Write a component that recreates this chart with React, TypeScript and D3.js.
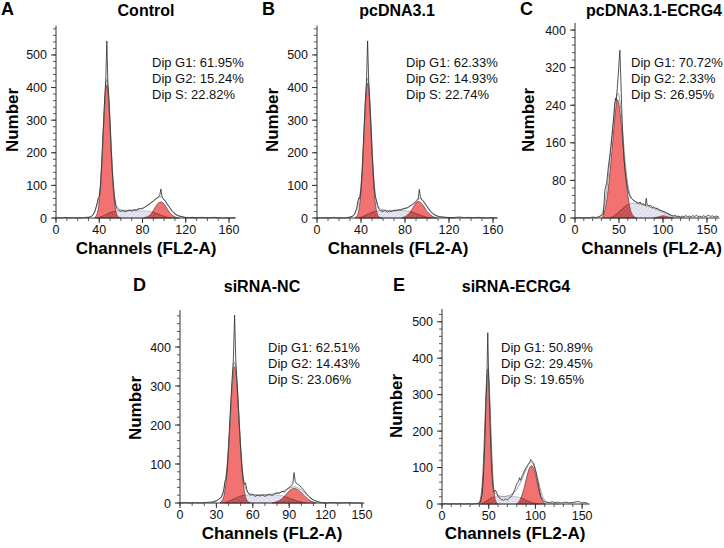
import * as d3 from "d3";

type Pt = [number, number];

// ---- panel A: Control
const aRaw: Pt[] = [[0,0],[3,1],[6,0],[9,2],[12,0],[15,1],[18,0],[21,1],[24,0],[27,2],[30,2],[32,4],[34,8],[36,20],[38,45],[39,62],[40,66],[41,95],[42,150],[43,220],[44,290],[45,365],[46,420],[47,543],[48,410],[49,360],[50,290],[51,215],[52,150],[53,100],[54,65],[55,42],[56,30],[57,26],[58,24],[60,20],[62,23],[64,19],[66,22],[68,24],[70,21],[72,25],[74,23],[76,27],[78,29],[80,28],[82,33],[84,38],[86,42],[88,48],[90,52],[92,58],[94,62],[96,70],[97,89],[98,66],[99,60],[101,52],[103,42],[105,32],[107,22],[109,15],[111,10],[113,7],[115,5],[117,4],[119,2],[122,1],[126,2],[130,1],[134,2],[138,1],[142,1],[146,2],[150,1],[154,0],[158,1],[162,0],[166,1]];
const aFit: Pt[] = [[28,0],[32,3],[35,12],[38,40],[40,62],[41,95],[42,150],[43,220],[44,295],[45,365],[46,415],[47,430],[48,415],[49,370],[50,300],[51,225],[52,158],[53,105],[54,70],[55,45],[57,30],[60,24],[65,23],[75,26],[82,32],[86,40],[90,52],[94,63],[97,67],[99,62],[101,52],[104,38],[107,24],[111,10],[115,4],[121,1],[130,0]];
const aG1: Pt[] = [[36,2],[37,5],[38,12],[39,26],[40,50],[41,87],[42,140],[43,207],[44,280],[45,348],[46,397],[47,414],[48,397],[49,348],[50,280],[51,207],[52,140],[53,87],[54,50],[55,26],[56,12],[57,5],[58,2],[60,0]];
const aG2: Pt[] = [[81,0],[85,4],[88,12],[91,28],[93,40],[95,48],[97,50],[99,47],[101,38],[103,27],[105,16],[108,6],[111,2],[114,0]];
const aS: Pt[] = [[38,0],[42,4],[46,10],[50,17],[54,21],[58,22],[70,22],[80,22],[86,21],[90,18],[94,13],[98,7],[102,3],[106,0]];
const aStats = ["Dip G1: 61.95%", "Dip G2: 15.24%", "Dip S: 22.82%"];

// ---- panel B: pcDNA3.1
const bRaw: Pt[] = [[0,0],[3,1],[6,0],[9,1],[12,0],[15,2],[18,0],[21,1],[24,0],[27,1],[30,3],[32,5],[34,10],[36,28],[37,50],[38,62],[39,60],[40,90],[41,140],[42,215],[43,290],[44,360],[45,420],[46,543],[47,420],[48,355],[49,285],[50,210],[51,145],[52,95],[53,65],[54,55],[55,38],[56,28],[58,22],[60,20],[62,23],[64,18],[66,21],[68,20],[70,23],[72,22],[74,25],[76,24],[78,28],[80,30],[82,31],[84,36],[86,40],[88,44],[90,50],[92,58],[93,88],[94,65],[95,58],[97,50],[99,40],[101,30],[103,20],[105,13],[107,9],[109,6],[111,4],[114,3],[118,2],[122,1],[126,2],[130,3],[134,1],[138,2],[142,1],[146,2],[150,1],[154,0],[158,1],[164,0]];
const bFit: Pt[] = [[28,0],[32,4],[34,10],[36,25],[38,45],[40,95],[41,145],[42,215],[43,290],[44,365],[45,415],[46,435],[47,418],[48,365],[49,295],[50,220],[51,155],[52,105],[53,70],[54,48],[56,32],[58,26],[65,22],[75,25],[82,30],[86,38],[89,50],[91,57],[93,61],[95,58],[97,50],[100,36],[103,22],[107,10],[111,4],[117,1],[126,0]];
const bG1: Pt[] = [[35,2],[36,4],[37,10],[38,22],[39,44],[40,80],[41,133],[42,201],[43,277],[44,349],[45,402],[46,420],[47,402],[48,349],[49,277],[50,201],[51,133],[52,80],[53,44],[54,22],[55,10],[56,4],[57,2],[59,0]];
const bG2: Pt[] = [[77,0],[81,5],[84,14],[87,30],[89,42],[91,50],[93,51],[95,46],[97,36],[99,24],[102,12],[105,4],[109,0]];
const bS: Pt[] = [[38,0],[42,5],[46,11],[50,18],[54,22],[60,23],[70,23],[80,23],[84,21],[88,17],[92,11],[96,6],[100,2],[104,0]];
const bStats = ["Dip G1: 62.33%", "Dip G2: 14.93%", "Dip S: 22.74%"];

// ---- panel C: pcDNA3.1-ECRG4
const cRaw: Pt[] = [[0,0],[4,1],[8,0],[12,1],[16,0],[20,2],[24,1],[27,3],[30,5],[32,8],[33,30],[34,60],[36,75],[38,110],[40,140],[42,175],[44,215],[45,240],[46,255],[47,250],[48,275],[49,300],[50,330],[51,357],[52,300],[53,240],[54,185],[55,150],[56,120],[58,85],[60,60],[62,48],[64,42],[66,38],[68,36],[70,33],[72,31],[74,34],[76,29],[78,30],[80,27],[81,42],[82,28],[84,26],[86,27],[88,22],[90,24],[92,20],[94,21],[96,17],[98,16],[100,14],[102,13],[104,11],[106,9],[108,7],[110,5],[112,4],[114,6],[116,3],[118,4],[120,2],[122,4],[124,3],[126,5],[128,3],[130,4],[132,2],[134,5],[136,3],[138,6],[140,3],[142,4],[144,2],[146,5],[148,3],[150,4],[152,6],[154,3],[156,5],[158,2],[160,4],[163,3]];
const cFit: Pt[] = [[26,0],[30,4],[33,20],[36,55],[39,110],[42,170],[44,215],[46,250],[48,268],[50,265],[52,235],[54,190],[56,140],[58,100],[60,70],[62,52],[64,42],[67,36],[72,32],[80,27],[90,21],[100,14],[106,9],[110,5],[116,2],[124,0]];
const cG1: Pt[] = [[31,0],[34,15],[37,45],[40,100],[43,165],[45,210],[47,245],[48,255],[50,245],[52,215],[54,170],[56,120],[58,80],[60,48],[62,25],[64,10],[67,2],[70,0]];
const cG2: Pt[] = [[90,0],[94,2],[98,4],[101,5],[104,3],[108,1],[111,0]];
const cS: Pt[] = [[40,0],[45,5],[50,13],[55,22],[60,29],[64,32],[70,31],[80,26],[90,20],[100,12],[106,6],[110,2],[114,0]];
const cStats = ["Dip G1: 70.72%", "Dip G2: 2.33%", "Dip S: 26.95%"];

// ---- panel D: siRNA-NC
const dRaw: Pt[] = [[0,0],[4,1],[8,0],[12,1],[16,0],[20,1],[24,2],[27,3],[30,6],[32,10],[34,14],[36,30],[37,55],[38,62],[39,95],[40,145],[41,205],[42,265],[43,320],[44,370],[45,482],[46,365],[47,310],[48,255],[49,195],[50,140],[51,95],[52,65],[53,48],[54,52],[55,35],[56,26],[58,20],[60,22],[62,17],[64,20],[66,18],[68,21],[70,17],[72,20],[74,22],[76,19],[78,24],[80,26],[82,25],[84,30],[86,28],[88,35],[90,40],[92,45],[93,50],[94,78],[95,55],[96,50],[98,46],[100,40],[102,33],[104,25],[106,18],[108,12],[110,8],[112,5],[114,3],[116,1],[120,0],[126,1],[132,0],[138,1],[144,0],[150,0]];
const dFit: Pt[] = [[26,0],[30,4],[33,12],[35,20],[37,45],[39,100],[40,145],[41,200],[42,255],[43,312],[44,352],[45,366],[46,352],[47,315],[48,260],[49,200],[50,145],[51,100],[52,68],[53,46],[55,30],[58,22],[65,20],[75,22],[82,26],[86,31],[90,38],[93,42],[96,41],[99,36],[102,28],[106,16],[110,7],[114,2],[120,0]];
const dG1: Pt[] = [[33,1],[34,3],[35,7],[36,15],[37,30],[38,53],[39,88],[40,135],[41,190],[42,247],[43,302],[44,340],[45,354],[46,340],[47,302],[48,247],[49,190],[50,135],[51,88],[52,53],[53,30],[54,15],[55,7],[56,3],[58,0]];
const dG2: Pt[] = [[76,0],[80,3],[84,10],[87,20],[90,32],[93,38],[96,37],[99,30],[102,20],[105,11],[108,4],[112,0]];
const dS: Pt[] = [[36,0],[40,4],[44,10],[48,16],[52,20],[56,21],[70,21],[80,21],[84,19],[88,15],[92,10],[96,6],[100,2],[104,0]];
const dStats = ["Dip G1: 62.51%", "Dip G2: 14.43%", "Dip S: 23.06%"];

// ---- panel E: siRNA-ECRG4
const eRaw: Pt[] = [[0,0],[4,1],[8,0],[12,1],[16,0],[20,1],[24,0],[28,1],[32,0],[36,1],[39,2],[41,5],[43,25],[44,60],[45,110],[46,180],[47,270],[48,340],[49,470],[50,345],[51,260],[52,170],[53,105],[54,60],[55,40],[56,32],[57,38],[58,35],[59,28],[60,22],[62,15],[64,12],[66,10],[68,14],[70,11],[72,16],[74,20],[76,28],[78,40],[80,55],[82,62],[83,72],[84,65],[86,78],[88,90],[90,100],[92,108],[94,115],[95,122],[96,118],[98,112],[100,95],[102,70],[104,42],[106,20],[108,10],[110,6],[112,5],[115,4],[118,6],[121,4],[124,5],[127,3],[130,4],[133,5],[136,3],[139,4],[142,5],[145,7],[147,6],[150,3],[153,4],[156,2]];
const eFit: Pt[] = [[38,0],[40,2],[42,4],[44,35],[45,100],[46,170],[47,255],[48,330],[49,385],[50,340],[51,260],[52,175],[53,105],[54,62],[55,40],[57,28],[60,22],[65,20],[72,22],[78,32],[82,48],[86,70],[90,95],[93,110],[95,115],[97,113],[100,95],[103,65],[106,32],[109,12],[112,4],[118,1],[125,0]];
const eG1: Pt[] = [[40,4],[41,11],[42,25],[43,51],[44,94],[45,155],[46,229],[47,303],[48,358],[49,377],[50,358],[51,303],[52,229],[53,155],[54,94],[55,51],[56,25],[57,11],[58,4],[60,0]];
const eG2: Pt[] = [[80,0],[83,8],[86,25],[89,55],[92,88],[94,102],[96,107],[98,100],[100,82],[102,58],[104,34],[106,15],[108,5],[111,0]];
const eS: Pt[] = [[42,0],[46,6],[50,13],[54,19],[58,20],[70,20],[80,20],[84,18],[88,13],[92,8],[96,4],[100,1],[103,0]];
const eStats = ["Dip G1: 50.89%", "Dip G2: 29.45%", "Dip S: 19.65%"];

const titles = ["Control", "pcDNA3.1", "pcDNA3.1-ECRG4", "siRNA-NC", "siRNA-ECRG4"];
const letters = ["A", "B", "C", "D", "E"];
const xTicksAB = [0, 40, 80, 120, 160];
const xTicksCE = [0, 50, 100, 150];
const xTicksD = [0, 30, 60, 90, 120, 150];
const yTicksAB = [0, 100, 200, 300, 400, 500];
const yTicksC = [0, 80, 160, 240, 320, 400];
const yTicksD = [0, 100, 200, 300, 400];
const yTicksE = [0, 100, 200, 300, 400, 500];

const FONT = "Liberation Sans, Arial, Helvetica, sans-serif";
const RED = "#f27272";

const panels = [
  { id: "a", raw: aRaw, fit: aFit, g1: aG1, g2: aG2, s: aS, stats: aStats, xTicks: xTicksAB, xMinor: 10, yTicks: yTicksAB, yMinor: 20,
    xMax: 166, yMax: 590, left: 56, right: 235.5, top: 25.6, bottom: 218,
    letterX: 1, letterY: 15, titleX: 146, titleY: 16, titleAnchor: "middle", numX: 12, numY: 120, statX: 152, statY: 67, labX: 146, labY: 254, labAnchor: "middle" },
  { id: "b", raw: bRaw, fit: bFit, g1: bG1, g2: bG2, s: bS, stats: bStats, xTicks: xTicksAB, xMinor: 10, yTicks: yTicksAB, yMinor: 20,
    xMax: 164, yMax: 590, left: 317, right: 497.4, top: 25.6, bottom: 218,
    letterX: 262, letterY: 15, titleX: 397, titleY: 16, titleAnchor: "middle", numX: 272, numY: 120, statX: 406, statY: 67, labX: 398, labY: 254, labAnchor: "middle" },
  { id: "c", raw: cRaw, fit: cFit, g1: cG1, g2: cG2, s: cS, stats: cStats, xTicks: xTicksCE, xMinor: 10, yTicks: yTicksC, yMinor: 16,
    xMax: 164, yMax: 415, left: 575, right: 719.3, top: 23, bottom: 218,
    letterX: 520, letterY: 15, titleX: 722, titleY: 16, titleAnchor: "end", numX: 528, numY: 120, statX: 631, statY: 67, labX: 722, labY: 254, labAnchor: "end" },
  { id: "d", raw: dRaw, fit: dFit, g1: dG1, g2: dG2, s: dS, stats: dStats, xTicks: xTicksD, xMinor: 10, yTicks: yTicksD, yMinor: 20,
    xMax: 152, yMax: 495, left: 180, right: 364.4, top: 310, bottom: 503,
    letterX: 133, letterY: 291, titleX: 262, titleY: 292, titleAnchor: "middle", numX: 135, numY: 408, statX: 268, statY: 352, labX: 272, labY: 539, labAnchor: "middle" },
  { id: "e", raw: eRaw, fit: eFit, g1: eG1, g2: eG2, s: eS, stats: eStats, xTicks: xTicksCE, xMinor: 10, yTicks: yTicksE, yMinor: 20,
    xMax: 158, yMax: 535, left: 442, right: 589.6, top: 309, bottom: 504,
    letterX: 393, letterY: 291, titleX: 516, titleY: 292, titleAnchor: "middle", numX: 396, numY: 406, statX: 501, statY: 352, labX: 515, labY: 539, labAnchor: "middle" },
];

function Panel({ p, i }: { p: (typeof panels)[number]; i: number }) {
  const x = d3.scaleLinear().domain([0, p.xMax]).range([p.left, p.right]);
  const y = d3.scaleLinear().domain([0, p.yMax]).range([p.bottom, p.top]);
  const area = d3.area<Pt>().x(d => x(d[0])).y0(y(0)).y1(d => y(d[1])).curve(d3.curveBasis);
  const smooth = d3.line<Pt>().x(d => x(d[0])).y(d => y(d[1])).curve(d3.curveBasis);
  const jag = d3.line<Pt>().x(d => x(d[0])).y(d => y(d[1]));
  const xMinor = d3.range(0, p.xMax + 0.01, p.xMinor);
  const yMinor = d3.range(0, p.yMax + 0.01, p.yMinor);
  const clip = `redclip-${p.id}`;
  return (
    <g>
      <clipPath id={clip}>
        <path d={area(p.g1) || ""} />
        <path d={area(p.g2) || ""} />
      </clipPath>
      {/* S phase */}
      <path d={area(p.s) || ""} fill="#e6e6f4" />
      <path d={area(p.s) || ""} fill="url(#hatchS)" stroke="#9a9ab2" strokeWidth={0.6} />
      {/* G1 / G2 */}
      <path d={area(p.g1) || ""} fill={RED} stroke="#5a3030" strokeWidth={0.7} />
      <path d={area(p.g2) || ""} fill={RED} stroke="#5a3030" strokeWidth={0.7} />
      <g clipPath={`url(#${clip})`}>
        <path d={area(p.s) || ""} fill="#cc5a5a" />
        <path d={area(p.s) || ""} fill="url(#hatchD)" stroke="#6a2a2a" strokeWidth={0.6} />
      </g>
      <path d={smooth(p.fit) || ""} fill="none" stroke="#a0a0a0" strokeWidth={1} />
      <path d={jag(p.raw) || ""} fill="none" stroke="#2a2a2a" strokeWidth={0.8} />

      {/* axes */}
      <line x1={p.left} x2={p.left} y1={p.bottom} y2={p.top} stroke="#333" strokeWidth={1} />
      <line x1={p.left} x2={p.right} y1={p.bottom} y2={p.bottom} stroke="#333" strokeWidth={1} />
      {yMinor.map(v => (
        <line key={"ym" + v} x1={p.left - 3} x2={p.left} y1={y(v)} y2={y(v)} stroke="#333" strokeWidth={0.8} />
      ))}
      {xMinor.map(v => (
        <line key={"xm" + v} x1={x(v)} x2={x(v)} y1={p.bottom} y2={p.bottom + 3} stroke="#333" strokeWidth={0.8} />
      ))}
      {p.yTicks.map(v => (
        <g key={"yt" + v}>
          <line x1={p.left - 5} x2={p.left} y1={y(v)} y2={y(v)} stroke="#333" strokeWidth={1} />
          <text x={p.left - 9} y={y(v)} dy="0.36em" textAnchor="end" fontSize={12.5} fill="#111">{v}</text>
        </g>
      ))}
      {p.xTicks.map(v => (
        <g key={"xt" + v}>
          <line x1={x(v)} x2={x(v)} y1={p.bottom} y2={p.bottom + 5} stroke="#333" strokeWidth={1} />
          <text x={x(v)} y={p.bottom + 16} textAnchor="middle" fontSize={12.5} fill="#111">{v}</text>
        </g>
      ))}

      {/* labels */}
      <text x={p.letterX} y={p.letterY} fontSize={18} fontWeight="bold">{letters[i]}</text>
      <text x={p.titleX} y={p.titleY} fontSize={16} fontWeight="bold" textAnchor={p.titleAnchor}>{titles[i]}</text>
      <text transform={`translate(${p.numX + 6},${p.numY}) rotate(-90)`} fontSize={17} fontWeight="bold" textAnchor="middle">Number</text>
      <text x={p.labX} y={p.labY} fontSize={17} fontWeight="bold" textAnchor={p.labAnchor}>Channels (FL2-A)</text>
      {p.stats.map((s, k) => (
        <text key={s} x={p.statX} y={p.statY + k * 16} fontSize={13} fill="#111">{s}</text>
      ))}
    </g>
  );
}

export default function App() {
  return (
    <svg width={724} height={548} viewBox="0 0 724 548" fontFamily={FONT}
      style={{ position: "absolute", left: 0, top: 0, background: "#fff" }}>
      <defs>
        <pattern id="hatchS" width={3} height={3} patternUnits="userSpaceOnUse" patternTransform="rotate(45)">
          <line x1={0} y1={0} x2={0} y2={3} stroke="#b0b0c8" strokeWidth={0.6} />
        </pattern>
        <pattern id="hatchD" width={3} height={3} patternUnits="userSpaceOnUse" patternTransform="rotate(45)">
          <line x1={0} y1={0} x2={0} y2={3} stroke="#7a2e2e" strokeWidth={0.7} />
        </pattern>
      </defs>
      <rect width={724} height={548} fill="#fff" />
      {panels.map((p, i) => <Panel key={p.id} p={p} i={i} />)}
    </svg>
  );
}
